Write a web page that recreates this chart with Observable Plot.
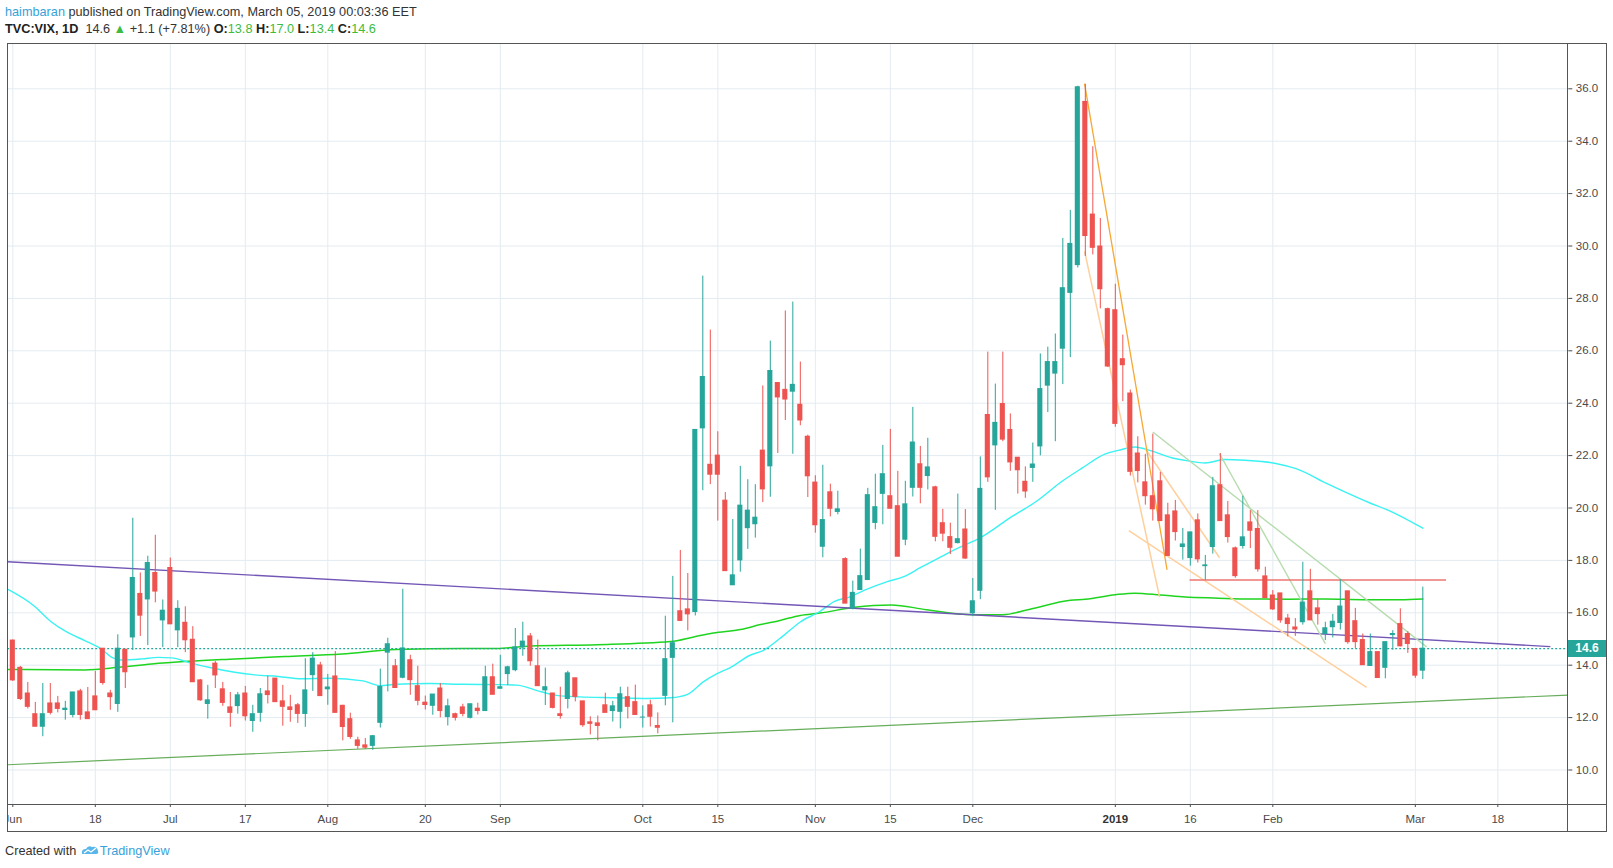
<!DOCTYPE html>
<html>
<head>
<meta charset="utf-8">
<script src="https://cdn.jsdelivr.net/npm/d3@7"></script>
<script src="https://cdn.jsdelivr.net/npm/@observablehq/plot@0.6"></script>
<style>
  html, body { margin: 0; padding: 0; background: #fff; }
  #wrap { position: relative; width: 1613px; height: 868px; overflow: hidden; font-family: "Liberation Sans", Arial, sans-serif; }
  #chart { position: absolute; left: 0; top: 0; }
  .hdr { position: absolute; left: 5px; font-size: 12.7px; color: #333; white-space: nowrap; line-height: 16px; }
  .blue { color: #37a2da; }
  .g { color: #3dbb3d; }
  .b { font-weight: bold; color: #222; }
  .ln { position: absolute; background: #555; }
  #cover { position: absolute; left: 0; top: 40px; width: 6.5px; height: 795px; background: #fff; }
  #pricebox { position: absolute; background: #26a69a; color: #fff; font-weight: bold; font-size: 12px; text-align: center; }
</style>
</head>
<body>
<div id="wrap">
  <div id="chart"></div>
  <div id="cover"></div>
  <div class="ln" style="left:7px;top:43px;width:1599px;height:1px"></div>
  <div class="ln" style="left:7px;top:831px;width:1599px;height:1px"></div>
  <div class="ln" style="left:7px;top:43px;width:1px;height:789px"></div>
  <div class="ln" style="left:1606px;top:43px;width:1px;height:789px"></div>
  <div class="ln" style="left:1567px;top:43px;width:1px;height:789px"></div>
  <div class="ln" style="left:7px;top:804px;width:1599px;height:1px"></div>
  <div class="hdr" style="top:4px"><span class="blue">haimbaran</span> published on TradingView.com, March 05, 2019 00:03:36 EET</div>
  <div class="hdr" style="top:21px"><span class="b">TVC:VIX, 1D</span>&nbsp; 14.6 <span class="g">&#9650;</span> +1.1 (+7.81%) <span class="b">O:</span><span class="g">13.8</span> <span class="b">H:</span><span class="g">17.0</span> <span class="b">L:</span><span class="g">13.4</span> <span class="b">C:</span><span class="g">14.6</span></div>
  <div class="hdr" style="top:843px">Created with <svg width="20" height="12" viewBox="0 0 20 12" style="vertical-align:-1px"><path d="M2 10 Q1 5 6 5 Q8 1 12 3 Q17 2 18 7 Q19 10 16 10 Z" fill="#58b6ea"/><path d="M4 9 L8 6 L11 8 L16 4" stroke="#fff" stroke-width="1.3" fill="none"/></svg><span class="blue">TradingView</span></div>
  <div id="pricebox"></div>
</div>
<script>
// ---- Daily VIX candles, 1 Jun 2018 (index 0) .. 4 Mar 2019 (index 188), trading-day index ----
const open = [
14.94,13.90,12.92,12.13,11.65,12.54,12.54,12.29,12.10,13.00,12.20,12.81,14.63,12.92,12.52,14.59,15.06,16.72,16.51,17.52,
15.71,17.71,15.33,15.62,14.97,13.42,12.52,14.06,13.08,12.39,12.44,12.92,11.87,12.18,13.00,13.49,12.62,12.39,12.47,12.14,
13.62,13.99,13.08,13.57,12.45,11.94,11.13,10.94,10.92,11.80,14.48,13.96,13.52,14.19,13.20,12.57,12.45,13.11,12.02,12.13,
12.39,11.99,12.34,12.25,13.54,13.10,13.66,13.81,14.68,15.10,13.96,13.04,12.92,12.13,12.71,13.50,12.62,11.82,11.78,12.47,
12.25,12.22,12.78,12.59,12.00,12.47,11.68,12.83,14.28,16.06,16.13,16.03,23.04,21.65,22.00,20.28,17.05,18.00,19.23,19.38,
22.19,21.59,24.77,24.51,24.44,23.94,22.72,20.97,18.52,20.60,19.85,18.05,16.17,16.87,17.25,19.43,20.54,20.45,20.07,18.79,
20.77,21.67,21.22,20.79,19.42,18.89,18.66,19.18,15.98,16.84,23.55,22.39,23.97,22.98,21.92,21.00,21.53,22.35,24.67,25.13,
26.08,28.21,29.27,35.50,31.20,29.98,27.59,27.55,25.68,24.37,22.08,20.98,20.45,21.02,19.72,19.87,18.51,18.09,19.53,17.78,
18.51,20.87,19.72,18.46,18.55,19.45,19.20,17.39,16.66,16.74,15.78,15.44,15.64,16.82,16.17,15.19,15.45,15.61,16.82,15.68,
14.96,13.97,14.50,13.90,15.15,15.57,15.19,14.62,13.79];
const high = [
14.96,13.95,13.34,12.58,13.30,13.30,12.81,12.62,12.96,13.08,13.15,13.76,14.63,13.04,15.16,14.59,19.61,17.52,18.16,18.96,
16.49,18.09,16.46,16.23,15.47,13.46,13.23,14.14,13.34,12.96,12.96,13.19,12.47,13.11,13.57,13.49,13.23,12.85,12.54,14.25,
14.48,14.11,13.65,14.52,12.47,12.17,11.25,11.20,11.32,13.85,15.03,14.22,16.90,14.38,13.96,12.82,12.88,13.30,12.70,12.17,
12.51,12.51,12.55,13.96,14.04,14.38,13.96,15.40,15.64,15.21,14.96,13.89,12.92,13.16,13.77,13.50,12.62,12.03,12.06,12.93,
12.62,13.16,13.16,13.24,12.45,12.66,12.18,15.87,17.39,18.38,17.50,22.98,28.85,26.79,22.91,20.59,19.56,21.59,21.08,20.89,
24.66,26.37,24.77,27.52,27.86,25.57,22.78,21.23,21.63,20.91,20.64,18.10,17.21,18.43,20.75,21.29,22.39,23.00,21.40,21.02,
23.84,22.35,22.66,20.83,19.95,19.42,20.53,19.94,17.31,21.95,25.95,24.73,25.95,23.59,21.92,21.57,22.48,25.88,26.14,26.64,
30.29,31.36,36.10,36.17,33.79,31.05,27.63,28.54,26.60,24.50,22.72,22.05,22.82,21.36,20.18,20.29,19.22,19.07,19.77,18.19,
21.17,22.08,20.25,18.51,20.45,19.90,19.90,17.74,16.85,16.74,15.94,15.78,17.93,17.66,16.51,15.64,15.94,17.26,16.82,16.17,
15.19,15.19,14.50,14.88,15.32,16.15,15.28,14.62,16.98];
const low = [
13.38,12.65,12.33,11.65,11.27,12.10,12.18,11.90,11.99,11.90,11.94,12.28,13.24,12.28,12.20,13.11,14.56,15.10,14.75,16.38,
14.67,15.56,14.67,14.48,13.35,12.62,11.94,13.11,12.43,11.63,12.13,11.87,11.44,11.82,12.52,12.59,11.67,11.82,11.78,11.63,
13.00,12.82,12.47,12.18,11.11,11.17,10.79,10.78,10.75,11.60,12.98,13.13,13.48,12.85,12.45,12.29,12.09,11.99,11.68,11.87,
12.03,11.95,12.10,12.25,12.87,13.10,13.22,13.75,14.34,13.96,13.20,12.46,12.33,11.94,12.33,12.60,11.63,11.34,11.11,12.18,
11.83,11.57,11.95,12.10,11.60,11.64,11.38,12.45,11.80,15.69,15.31,15.88,20.66,20.89,19.50,17.59,17.05,17.55,18.42,18.85,
20.21,20.41,22.08,23.34,22.05,23.14,20.40,19.04,18.10,19.66,19.74,16.35,16.11,16.87,17.25,19.17,19.36,19.97,18.14,18.56,
20.42,20.16,20.69,18.71,18.71,18.22,18.63,18.04,15.85,16.50,20.98,19.91,22.53,21.40,20.53,20.37,20.98,21.99,23.64,22.53,
24.71,25.74,29.16,29.60,29.66,27.60,25.36,23.08,24.06,21.22,20.96,20.11,19.50,19.50,18.17,18.74,18.01,17.78,17.90,17.24,
18.24,19.50,18.66,17.32,18.43,18.45,17.55,16.56,16.09,15.60,15.08,15.10,15.53,15.71,15.53,14.94,15.04,15.34,14.80,14.64,
14.00,13.97,13.51,13.48,14.57,14.70,14.45,13.50,13.45];
const close = [
13.42,12.71,12.41,11.65,12.13,12.18,12.33,12.34,12.96,12.10,11.94,12.28,13.32,12.78,14.63,13.73,17.33,15.89,17.90,16.81,
16.08,15.56,16.15,14.95,13.35,12.66,12.66,13.61,12.56,12.18,12.85,12.05,12.13,12.89,12.86,12.59,12.41,12.29,12.14,13.04,
14.25,12.82,13.15,12.18,11.64,11.26,10.92,10.85,11.29,13.17,14.80,13.13,14.64,13.43,12.64,12.48,12.88,12.25,12.43,11.99,
12.14,12.51,12.25,13.54,12.87,13.16,13.92,14.68,14.90,14.15,13.20,13.16,12.37,12.06,13.69,12.79,11.71,11.76,11.68,12.18,
12.43,12.89,12.41,12.10,12.00,12.03,11.61,14.23,14.84,15.69,15.94,22.98,25.00,21.27,21.27,17.59,17.43,20.09,19.90,19.63,
20.71,25.23,24.22,24.14,24.70,23.34,21.21,19.34,19.54,19.97,19.95,16.35,16.76,17.40,20.49,20.03,21.29,19.97,18.14,20.14,
22.50,20.77,21.55,18.90,19.02,18.48,18.81,18.07,16.44,20.73,21.17,23.25,22.61,21.74,21.44,20.63,21.66,24.54,25.57,25.57,
28.39,30.08,36.06,30.38,29.93,28.35,25.40,23.21,25.45,21.38,21.41,20.45,19.95,19.50,18.17,19.08,18.61,19.07,18.04,17.81,
20.83,19.50,18.89,17.40,18.88,19.13,17.66,16.56,16.13,15.71,15.57,15.36,16.39,15.71,15.95,15.41,15.66,16.24,14.88,14.88,
14.00,14.50,13.51,14.88,15.19,14.72,14.81,13.60,14.63];

// ---- x-axis tick labels (trading-day index) ----
const tickIdx    = [0, 11, 21, 31, 42, 55, 65, 84, 94, 107, 117, 128, 147, 157, 168, 187, 198];
const tickLabels = ["Jun","18","Jul","17","Aug","20","Sep","Oct","15","Nov","15","Dec","2019","16","Feb","Mar","18"];
const yTicks = [10,12,14,16,18,20,22,24,26,28,30,32,34,36];

// ---- moving averages (index, value) ----
const maFastIdx = [-0.7,2.8,5.1,7.3,9.6,11.8,13.2,14.5,17.2,19.4,21.2,23.4,26.1,29.6,32.3,35.4,38.5,42.2,46.7,48.9,51.1,55.6,60,64.5,67.2,69.8,72.5,75.6,80.1,84.6,87.7,89.9,92.1,93.9,95.6,98.3,100.1,102.8,105,107.6,109.5,111.7,113.9,116.6,118.8,121,122.8,125,126.4,128.8,133.2,136.4,139.9,142.6,145.6,147.4,149.6,151.8,154.5,156.7,159,161.6,164.3,168.4,171.1,175.3,180.8,183.5,188];
const maFastVal = [16.90,16.27,15.66,15.25,14.94,14.62,14.30,14.20,14.24,14.30,14.28,14.11,13.92,13.73,13.63,13.57,13.48,13.50,13.40,13.22,13.27,13.30,13.27,13.26,13.24,13.04,12.85,12.79,12.76,12.73,12.76,12.88,13.37,13.68,13.90,14.38,14.57,15.14,15.65,16.05,16.43,16.62,16.90,17.19,17.38,17.72,17.99,18.33,18.52,18.83,19.67,20.24,21.02,21.53,22.06,22.20,22.33,22.18,21.92,21.80,21.72,21.85,21.82,21.70,21.50,20.92,20.21,19.90,19.23];
const maSlowIdx = [-0.7,9.6,14.1,18.5,23.4,29.6,36.3,43.9,51.1,60,64.5,69,77.9,87.7,90.8,93.4,97,99.7,102.3,105,107.6,112.2,117.1,121.8,128,132,135.5,141,143,147,149.6,153,156.3,160.7,164.3,170,175,180,185,188];
const maSlowVal = [13.84,13.82,13.92,14.05,14.15,14.24,14.33,14.43,14.60,14.64,14.64,14.73,14.78,14.90,15.08,15.23,15.36,15.55,15.71,15.90,15.99,16.21,16.30,16.12,15.93,15.93,16.13,16.48,16.52,16.69,16.75,16.68,16.60,16.56,16.53,16.52,16.53,16.50,16.50,16.53];

// ---- drawn trend lines [index, value] endpoints ----
const purpleTrend = [[-0.68, 17.95], [205, 14.71]];
const supportTrend = [[-0.68, 10.20], [207.33, 12.86]];
const orangeFall = [[142.9, 36.2], [153.9, 17.64]];
const peachFall = [[142.9, 29.8], [152.9, 16.6]];
const peachWedgeLow = [[148.8, 19.14], [180.5, 13.15]];
const peachWedgeHigh = [[151, 22.26], [160.9, 18.1]];
const greenFallA = [[152, 22.9], [188.5, 14.7]];
const greenFallB = [[160.9, 22.07], [175, 14.82]];
const redLevel = [[156.9, 17.25], [191.1, 17.25]];
const lastClose = 14.63;

const UP = "#26a69a", DOWN = "#ef5350", GRID = "#e3ebf1";
const bars = close.map((c, i) => ({i, o: open[i], h: high[i], l: low[i], c, col: c >= open[i] ? UP : DOWN}));
const fast = maFastIdx.map((x, k) => ({x, y: maFastVal[k]}));
const slow = maSlowIdx.map((x, k) => ({x, y: maSlowVal[k]}));
const seg = (p) => [{x1: p[0][0], y1: p[0][1], x2: p[1][0], y2: p[1][1]}];
const ticks = tickIdx.map((x, k) => ({x, t: tickLabels[k]}));

const link = (p, stroke, w = 1, op = 1) => Plot.link(seg(p), {x1: "x1", y1: "y1", x2: "x2", y2: "y2", stroke, strokeWidth: w, strokeOpacity: op});

const chart = Plot.plot({
  width: 1613, height: 868,
  marginLeft: 7.2, marginRight: 45.7, marginTop: 43.3, marginBottom: 64,
  x: {domain: [-0.68, 207.33], axis: null},
  y: {domain: [8.683, 37.718], axis: null},
  color: {type: "identity"},
  style: {background: "transparent", color: "#4a4a4a", fontFamily: "Liberation Sans, Arial, sans-serif"},
  marks: [
    Plot.ruleY(yTicks, {stroke: GRID}),
    Plot.ruleX(tickIdx, {stroke: GRID}),
    Plot.line(slow, {x: "x", y: "y", stroke: "#1fd41f", strokeWidth: 1.5, curve: "monotone-x"}),
    Plot.line(fast, {x: "x", y: "y", stroke: "#3af2f2", strokeWidth: 1.4, curve: "monotone-x"}),
    link(supportTrend, "#67ad5b", 1.2),
    link(purpleTrend, "#7356b6", 1.4),
    link(peachFall, "#ffcf9c", 1.5),
    link(peachWedgeLow, "#ffcf9c", 1.5),
    link(peachWedgeHigh, "#ffcf9c", 1.5),
    link(orangeFall, "#f7a733", 1.3),
    link(greenFallA, "#b6dcae", 1.4),
    link(greenFallB, "#b6dcae", 1.4),
    link(redLevel, "#ec7470", 1.4),
    Plot.ruleY([lastClose], {stroke: UP, strokeDasharray: "2,2", strokeWidth: 1.2}),
    Plot.ruleX(bars, {x: "i", y1: "l", y2: "h", stroke: "col", strokeWidth: 1}),
    Plot.rect(bars, {x1: d => d.i - 0.34, x2: d => d.i + 0.34, y1: d => Math.min(d.o, d.c), y2: d => Math.max(d.o, d.c), fill: "col", insetTop: -0.5, insetBottom: -0.5}),
    Plot.axisY({anchor: "right", ticks: yTicks, tickFormat: d => d.toFixed(1), tickSize: 4, tickPadding: 4, fontSize: 11.5, label: null}),
    Plot.axisX({anchor: "bottom", ticks: tickIdx, tickFormat: () => "", tickSize: 3, label: null}),
    Plot.text(ticks.filter(d => d.t !== "2019"), {x: "x", text: "t", frameAnchor: "bottom", dy: 18, fontSize: 11.5, fill: "#4a4a4a"}),
    Plot.text(ticks.filter(d => d.t === "2019"), {x: "x", text: "t", frameAnchor: "bottom", dy: 18, fontSize: 11.5, fontWeight: "bold", fill: "#333"})
  ]
});
document.getElementById("chart").appendChild(chart);

const yS = chart.scale("y");
const pb = document.getElementById("pricebox");
const py = yS.apply(lastClose);
pb.style.left = "1568px"; pb.style.width = "38px";
pb.style.top = (py - 8.5) + "px"; pb.style.height = "17px"; pb.style.lineHeight = "17px";
pb.textContent = lastClose.toFixed(1);
</script>
</body>
</html>
